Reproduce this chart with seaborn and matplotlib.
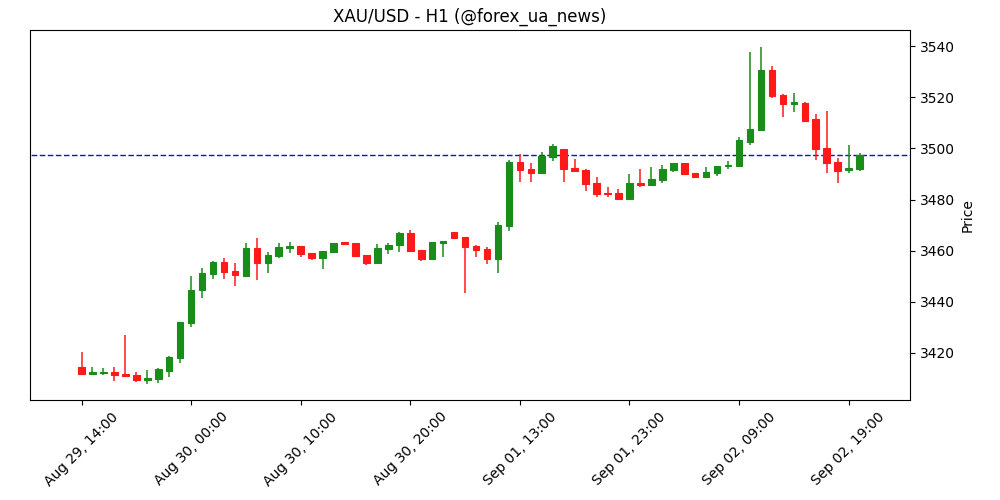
import matplotlib
matplotlib.use("Agg")
import matplotlib.pyplot as plt
import numpy as np
import pandas as pd
import seaborn as sns

# Hourly XAU/USD candles
opens = [3414.4, 3411.9, 3412.3, 3412.6, 3411.8, 3411.3, 3409.6, 3410.0, 3413.1, 3418.2,
         3431.9, 3444.5, 3451.0, 3455.6, 3452.1, 3450.2, 3461.0, 3455.3, 3458.0, 3461.2,
         3461.8, 3459.0, 3457.3, 3459.6, 3463.0, 3463.0, 3458.3, 3455.3, 3460.8, 3462.1,
         3466.9, 3460.1, 3456.9, 3463.1, 3467.3, 3465.3, 3461.8, 3460.7, 3456.9, 3469.8,
         3494.7, 3491.9, 3490.5, 3496.7, 3499.7, 3492.3, 3491.5, 3486.5, 3482.7, 3482.5,
         3480.3, 3486.5, 3485.8, 3487.7, 3491.7, 3494.2, 3490.2, 3488.7, 3490.5, 3493.0,
         3493.2, 3502.6, 3507.3, 3530.6, 3520.9, 3517.5, 3517.7, 3511.5, 3500.1, 3494.7,
         3491.7, 3492.1]
closes = [3411.9, 3412.5, 3412.6, 3411.5, 3411.1, 3409.6, 3410.2, 3413.6, 3418.3, 3432.0,
          3444.6, 3451.3, 3455.6, 3451.8, 3450.6, 3461.0, 3455.3, 3458.3, 3461.3, 3461.8,
          3458.8, 3457.3, 3459.8, 3462.9, 3462.8, 3458.0, 3455.3, 3461.0, 3462.2, 3466.9,
          3460.0, 3456.9, 3463.4, 3463.8, 3465.1, 3461.6, 3460.4, 3456.9, 3469.9, 3494.7,
          3491.7, 3490.5, 3497.1, 3500.9, 3492.0, 3491.1, 3486.2, 3482.3, 3482.3, 3480.3,
          3486.5, 3485.8, 3487.9, 3491.8, 3494.2, 3490.1, 3488.7, 3490.6, 3493.0, 3493.5,
          3503.2, 3507.6, 3530.6, 3520.6, 3517.5, 3518.1, 3510.8, 3499.9, 3494.4, 3491.3,
          3492.4, 3497.3]
highs = [3420.3, 3414.4, 3414.0, 3414.4, 3426.9, 3412.5, 3413.2, 3414.0, 3418.8, 3432.1,
         3450.0, 3453.1, 3456.0, 3457.1, 3455.2, 3462.9, 3464.8, 3459.4, 3462.9, 3463.3,
         3461.9, 3459.1, 3460.0, 3463.0, 3463.1, 3463.1, 3458.4, 3462.6, 3463.0, 3467.3,
         3467.9, 3460.2, 3463.5, 3463.9, 3467.4, 3465.4, 3462.2, 3461.3, 3471.1, 3495.6,
         3497.7, 3494.2, 3498.7, 3501.7, 3499.8, 3495.7, 3491.8, 3488.7, 3484.8, 3484.0,
         3489.9, 3491.8, 3492.6, 3493.4, 3494.3, 3494.3, 3490.3, 3492.6, 3493.1, 3494.9,
         3504.6, 3537.6, 3539.5, 3532.2, 3521.3, 3521.6, 3518.0, 3513.3, 3514.5, 3496.3,
         3501.2, 3498.1]
lows = [3411.4, 3411.3, 3411.2, 3409.1, 3410.7, 3408.8, 3408.0, 3408.2, 3410.7, 3416.2,
        3430.3, 3441.4, 3449.0, 3449.0, 3446.1, 3449.6, 3448.4, 3451.2, 3457.3, 3459.0,
        3457.6, 3456.5, 3452.7, 3459.5, 3462.7, 3457.6, 3454.5, 3455.2, 3458.8, 3459.6,
        3459.9, 3456.1, 3456.8, 3457.6, 3464.4, 3443.3, 3457.6, 3454.9, 3451.2, 3467.7,
        3486.7, 3486.7, 3489.9, 3494.9, 3486.7, 3490.6, 3483.2, 3480.9, 3481.1, 3480.2,
        3479.8, 3484.8, 3485.4, 3486.3, 3490.9, 3489.6, 3488.6, 3488.6, 3489.1, 3491.8,
        3493.1, 3501.3, 3506.9, 3519.6, 3512.1, 3514.1, 3510.7, 3495.4, 3490.3, 3486.3,
        3490.3, 3491.0]

tick_labels = ["Aug 29, 14:00", "Aug 30, 00:00", "Aug 30, 10:00", "Aug 30, 20:00",
               "Sep 01, 13:00", "Sep 01, 23:00", "Sep 02, 09:00", "Sep 02, 19:00"]
tick_step = 10

df = pd.DataFrame({"open": opens, "close": closes, "high": highs, "low": lows})
df["idx"] = np.arange(len(df))
df["up"] = df["close"] >= df["open"]

sns.set_style("ticks", rc={"axes.edgecolor": "black", "xtick.color": "black",
                           "ytick.color": "black", "axes.labelcolor": "black",
                           "text.color": "black"})
plt.rcParams["font.family"] = ["DejaVu Sans"]

up_color = "#1a8c1a"
down_color = "#ff1a1a"
colors = np.where(df["up"], up_color, down_color)

fig, ax = plt.subplots(figsize=(10, 5), dpi=100)
fig.subplots_adjust(left=0.03, right=0.91, bottom=0.2, top=0.94)

# wicks
ax.vlines(df["idx"], df["low"], df["high"], colors=colors, linewidth=1.1, zorder=2)
# bodies
body_bottom = df[["open", "close"]].min(axis=1)
body_height = (df["close"] - df["open"]).abs().clip(lower=0.4)
ax.bar(df["idx"], body_height, bottom=body_bottom, width=0.6,
       color=colors, edgecolor=colors, linewidth=0.8, zorder=3)

# last close line
sns.lineplot(x=[-10, len(df) + 10], y=[closes[-1], closes[-1]], ax=ax,
             color="#1010cc", linestyle=(0, (4, 1.8)), linewidth=1, zorder=1)

ax.set_xlim(-4.7, 75.6)
ax.set_ylim(3401.6, 3546.3)
ax.set_xticks(np.arange(len(tick_labels)) * tick_step)
ax.set_xticklabels(tick_labels, rotation=45, ha="center")
ax.yaxis.tick_right()
ax.yaxis.set_label_position("right")
ax.set_yticks(np.arange(3420, 3541, 20))
ax.set_ylabel("Price")
ax.set_title("XAU/USD - H1 (@forex_ua_news)", fontsize=12)
for s in ax.spines.values():
    s.set_visible(True)
    s.set_linewidth(0.8)

fig.savefig("out.png", dpi=100)
